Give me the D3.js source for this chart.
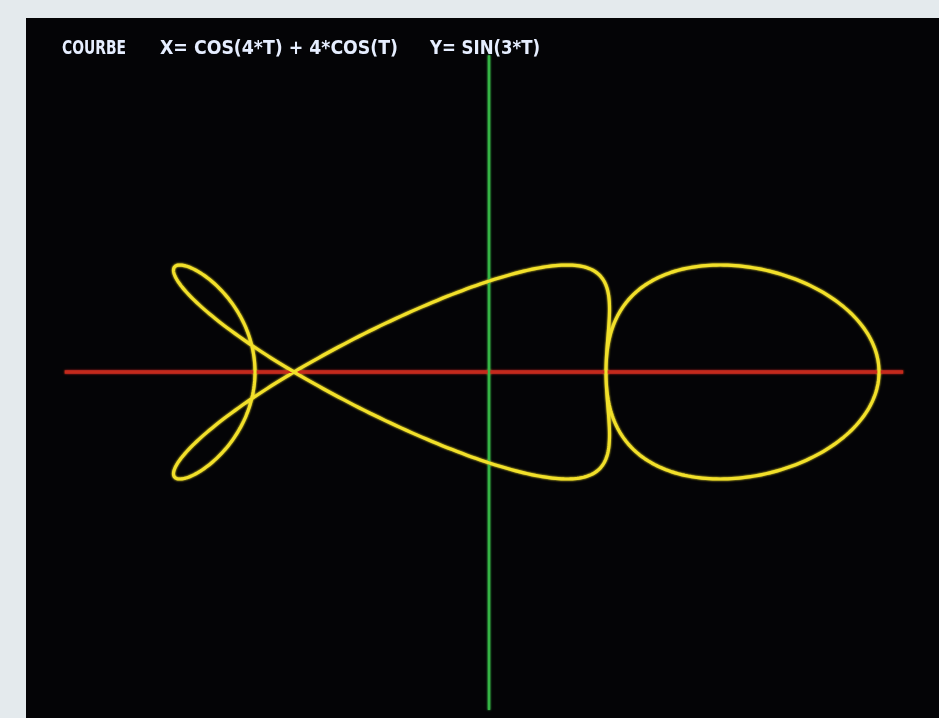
<!DOCTYPE html>
<html>
<head>
<meta charset="utf-8">
<script src="https://cdn.jsdelivr.net/npm/d3@7"></script>
<style>
  html, body { margin: 0; padding: 0; background: #e4eaed; }
  svg { display: block; }
</style>
</head>
<body>
<script>
// Parametric curve from the screen caption: X = COS(4*T) + 4*COS(T), Y = SIN(3*T)
const xTerms = [{ amp: 1, freq: 4 }, { amp: 4, freq: 1 }];
const yTerms = [{ amp: 1, freq: 3 }];
const tRange = [0, 2 * Math.PI];
const tSteps = 720;

// Axis extents in curve units
const xAxisExtent = [-5.44, 5.31];
const yAxisExtent = [-3.16, 2.96];

// Caption pieces
const captionParts = ["COURBE", "X= COS(4*T) + 4*COS(T)", "Y= SIN(3*T)"];

const W = 939, H = 718;
const screen = { left: 26, top: 18 };

const svg = d3.select("body").append("svg")
  .attr("width", W).attr("height", H);

const defs = svg.append("defs");
const glow = defs.append("filter").attr("id", "glow")
  .attr("x", "-5%").attr("y", "-5%").attr("width", "110%").attr("height", "110%");
glow.append("feGaussianBlur").attr("in", "SourceGraphic").attr("stdDeviation", 1.2).attr("result", "b");
const merge = glow.append("feMerge");
merge.append("feMergeNode").attr("in", "b");
merge.append("feMergeNode").attr("in", "SourceGraphic");

const soft = defs.append("filter").attr("id", "soft");
soft.append("feGaussianBlur").attr("stdDeviation", 0.5);

// light frame around the screen
svg.append("rect").attr("width", W).attr("height", H).attr("fill", "#e4eaed");
// CRT screen
svg.append("rect")
  .attr("x", screen.left).attr("y", screen.top)
  .attr("width", W - screen.left).attr("height", H - screen.top)
  .attr("fill", "#040406");

// scales: 78 px per unit horizontally, 107 px per unit vertically
const x = d3.scaleLinear().domain([0, 5]).range([489, 879]);
const y = d3.scaleLinear().domain([0, 1]).range([372, 265]);

const g = svg.append("g").attr("filter", "url(#glow)");

// horizontal axis (red)
g.append("line")
  .attr("x1", x(xAxisExtent[0])).attr("x2", x(xAxisExtent[1]))
  .attr("y1", y(0)).attr("y2", y(0))
  .attr("stroke", "#c42a1c").attr("stroke-width", 3.5);

// vertical axis (green)
g.append("line")
  .attr("x1", x(0)).attr("x2", x(0))
  .attr("y1", y(yAxisExtent[1])).attr("y2", y(yAxisExtent[0]))
  .attr("stroke", "#35b545").attr("stroke-width", 2.5);

// sample the curve
const evalTerms = (terms, fn, t) => d3.sum(terms, d => d.amp * fn(d.freq * t));
const ts = d3.range(tSteps + 1).map(i => tRange[0] + (tRange[1] - tRange[0]) * i / tSteps);
const pts = ts.map(t => [evalTerms(xTerms, Math.cos, t), evalTerms(yTerms, Math.sin, t)]);

const line = d3.line().x(d => x(d[0])).y(d => y(d[1])).curve(d3.curveLinear);

g.append("path")
  .datum(pts)
  .attr("d", line)
  .attr("fill", "none")
  .attr("stroke", "#f2e02a")
  .attr("stroke-width", 3.2)
  .attr("stroke-linejoin", "round");

// caption
const capX = [62, 160, 430];
const capW = [64, 238, 110];
const cap = svg.append("g").attr("filter", "url(#soft)");
captionParts.forEach((txt, i) => {
  cap.append("text")
    .attr("x", capX[i]).attr("y", 54)
    .attr("font-family", "'DejaVu Sans Condensed', 'Liberation Sans Narrow', sans-serif")
    .attr("font-weight", "bold")
    .attr("font-size", 20)
    .attr("fill", "#e6eeff")
    .attr("textLength", capW[i])
    .attr("lengthAdjust", "spacingAndGlyphs")
    .text(txt);
});
</script>
</body>
</html>
